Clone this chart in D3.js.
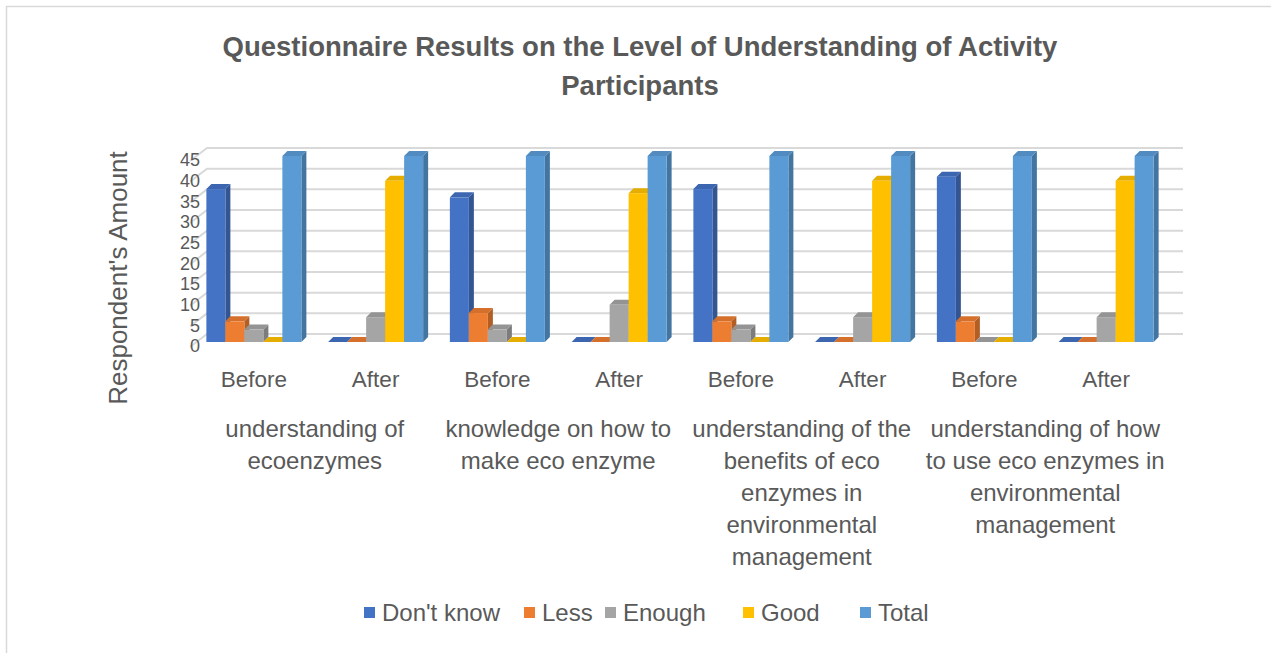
<!DOCTYPE html>
<html><head><meta charset="utf-8">
<script src="https://cdn.jsdelivr.net/npm/d3@7/dist/d3.min.js"></script>
<style>
html,body{margin:0;padding:0;background:#fff;}
svg{display:block;font-family:"Liberation Sans",Arial,sans-serif;}
</style></head>
<body>
<svg id="chart" width="1271" height="653"></svg>
<script>
const categories = ["Before","After","Before","After","Before","After","Before","After"];
const groupLabels = [
  ["understanding of","ecoenzymes"],
  ["knowledge on how to","make eco enzyme"],
  ["understanding of the","benefits of eco","enzymes in","environmental","management"],
  ["understanding of how","to use eco enzymes in","environmental","management"]
];
const seriesNames = ["Don't know","Less","Enough","Good","Total"];
const dontKnow = [37,0,35,0,37,0,40,0];
const less     = [5,0,7,0,5,0,5,0];
const enough   = [3,6,3,9,3,6,0,6];
const good     = [0,39,0,36,0,39,0,39];
const total    = [45,45,45,45,45,45,45,45];
const yTicks   = [0,5,10,15,20,25,30,35,40,45];
const colors   = ["#4472C4","#ED7D31","#A5A5A5","#FFC000","#5B9BD5"];
const seriesValues = [dontKnow,less,enough,good,total];

const svg = d3.select("#chart");
const textColor = "#595959";

// border
svg.append("rect").attr("x",6.5).attr("y",6.5).attr("width",1300).attr("height",700)
  .attr("fill","none").attr("stroke","#d9d9d9").attr("stroke-width",1.5);

// title
svg.append("text").attr("x",640).attr("y",56).attr("text-anchor","middle")
  .attr("font-size",27.5).attr("font-weight","bold").attr("fill",textColor)
  .text("Questionnaire Results on the Level of Understanding of Activity");
svg.append("text").attr("x",640).attr("y",95).attr("text-anchor","middle")
  .attr("font-size",27.5).attr("font-weight","bold").attr("fill",textColor)
  .text("Participants");

const x = d3.scaleBand().domain(d3.range(categories.length)).range([193,1167]);
const y = d3.scaleLinear().domain([0,45]).range([342,156]);

const wallDx = 17, wallFront = 5, wallBack = -8;
const gridRight = 1183;

// gridlines (back wall + side wall diagonal)
const grid = svg.append("g").attr("stroke","#d9d9d9").attr("stroke-width",2).attr("fill","none");
yTicks.forEach(v=>{
  grid.append("path").attr("d",
    `M${x.range()[0]-3},${y(v)+wallFront} L${x.range()[0]-3+wallDx},${y(v)+wallBack} L${gridRight},${y(v)+wallBack}`);
});

// y axis labels
const yAxis = d3.axisLeft(y).tickValues(yTicks).tickSize(0).tickPadding(0);
const yg = svg.append("g").attr("transform","translate(200,4)").call(yAxis);
yg.select(".domain").remove();
yg.selectAll("text").attr("font-size",18).attr("fill",textColor)
  .attr("font-family","'Liberation Sans',Arial,sans-serif");

// bars
const barW = 19, depth = 5;
const bars = svg.append("g");
categories.forEach((c,i)=>{
  const gx = x(i) + x.bandwidth()/2 - barW*seriesValues.length/2;
  seriesValues.forEach((arr,s)=>{
    const v = arr[i];
    const x0 = gx + s*barW, x1 = x0 + barW;
    const yt = y(v), yb = y(0);
    const col = d3.color(colors[s]);
    bars.append("path").attr("d",
      `M${x1},${yt} L${x1+depth},${yt-depth} L${x1+depth},${yb-depth} L${x1},${yb} Z`)
      .attr("fill",col.darker(0.8));
    bars.append("path").attr("d",
      `M${x0},${yt} L${x0+depth},${yt-depth} L${x1+depth},${yt-depth} L${x1},${yt} Z`)
      .attr("fill",col.darker(0.3));
    bars.append("rect").attr("x",x0).attr("y",yt).attr("width",barW).attr("height",yb-yt)
      .attr("fill",col);
  });
});

// x axis
const xAxis = d3.axisBottom(x).tickFormat(i=>categories[i]).tickSize(0).tickPadding(0);
const xg = svg.append("g").attr("transform","translate(0,371)").call(xAxis);
xg.select(".domain").remove();
xg.selectAll("text").attr("font-size",22.5).attr("fill",textColor)
  .attr("font-family","'Liberation Sans',Arial,sans-serif");

// group labels
groupLabels.forEach((lines,g)=>{
  const cx = (x(2*g) + x(2*g+1))/2 + x.bandwidth()/2;
  const t = svg.append("text").attr("text-anchor","middle").attr("font-size",24).attr("fill",textColor);
  lines.forEach((ln,k)=>{
    t.append("tspan").attr("x",cx).attr("y",437 + k*32).text(ln);
  });
});

// y title
svg.append("text").attr("transform","translate(127,278) rotate(-90)").attr("text-anchor","middle")
  .attr("font-size",26).attr("fill",textColor).text("Respondent's Amount");

// legend
const legendX = [364,524,605,743,860];
const lg = svg.append("g");
seriesNames.forEach((n,s)=>{
  lg.append("rect").attr("x",legendX[s]).attr("y",607).attr("width",11).attr("height",11).attr("fill",colors[s]);
  lg.append("text").attr("x",legendX[s]+18).attr("y",621).attr("font-size",24).attr("fill",textColor).text(n);
});
</script>
</body></html>
